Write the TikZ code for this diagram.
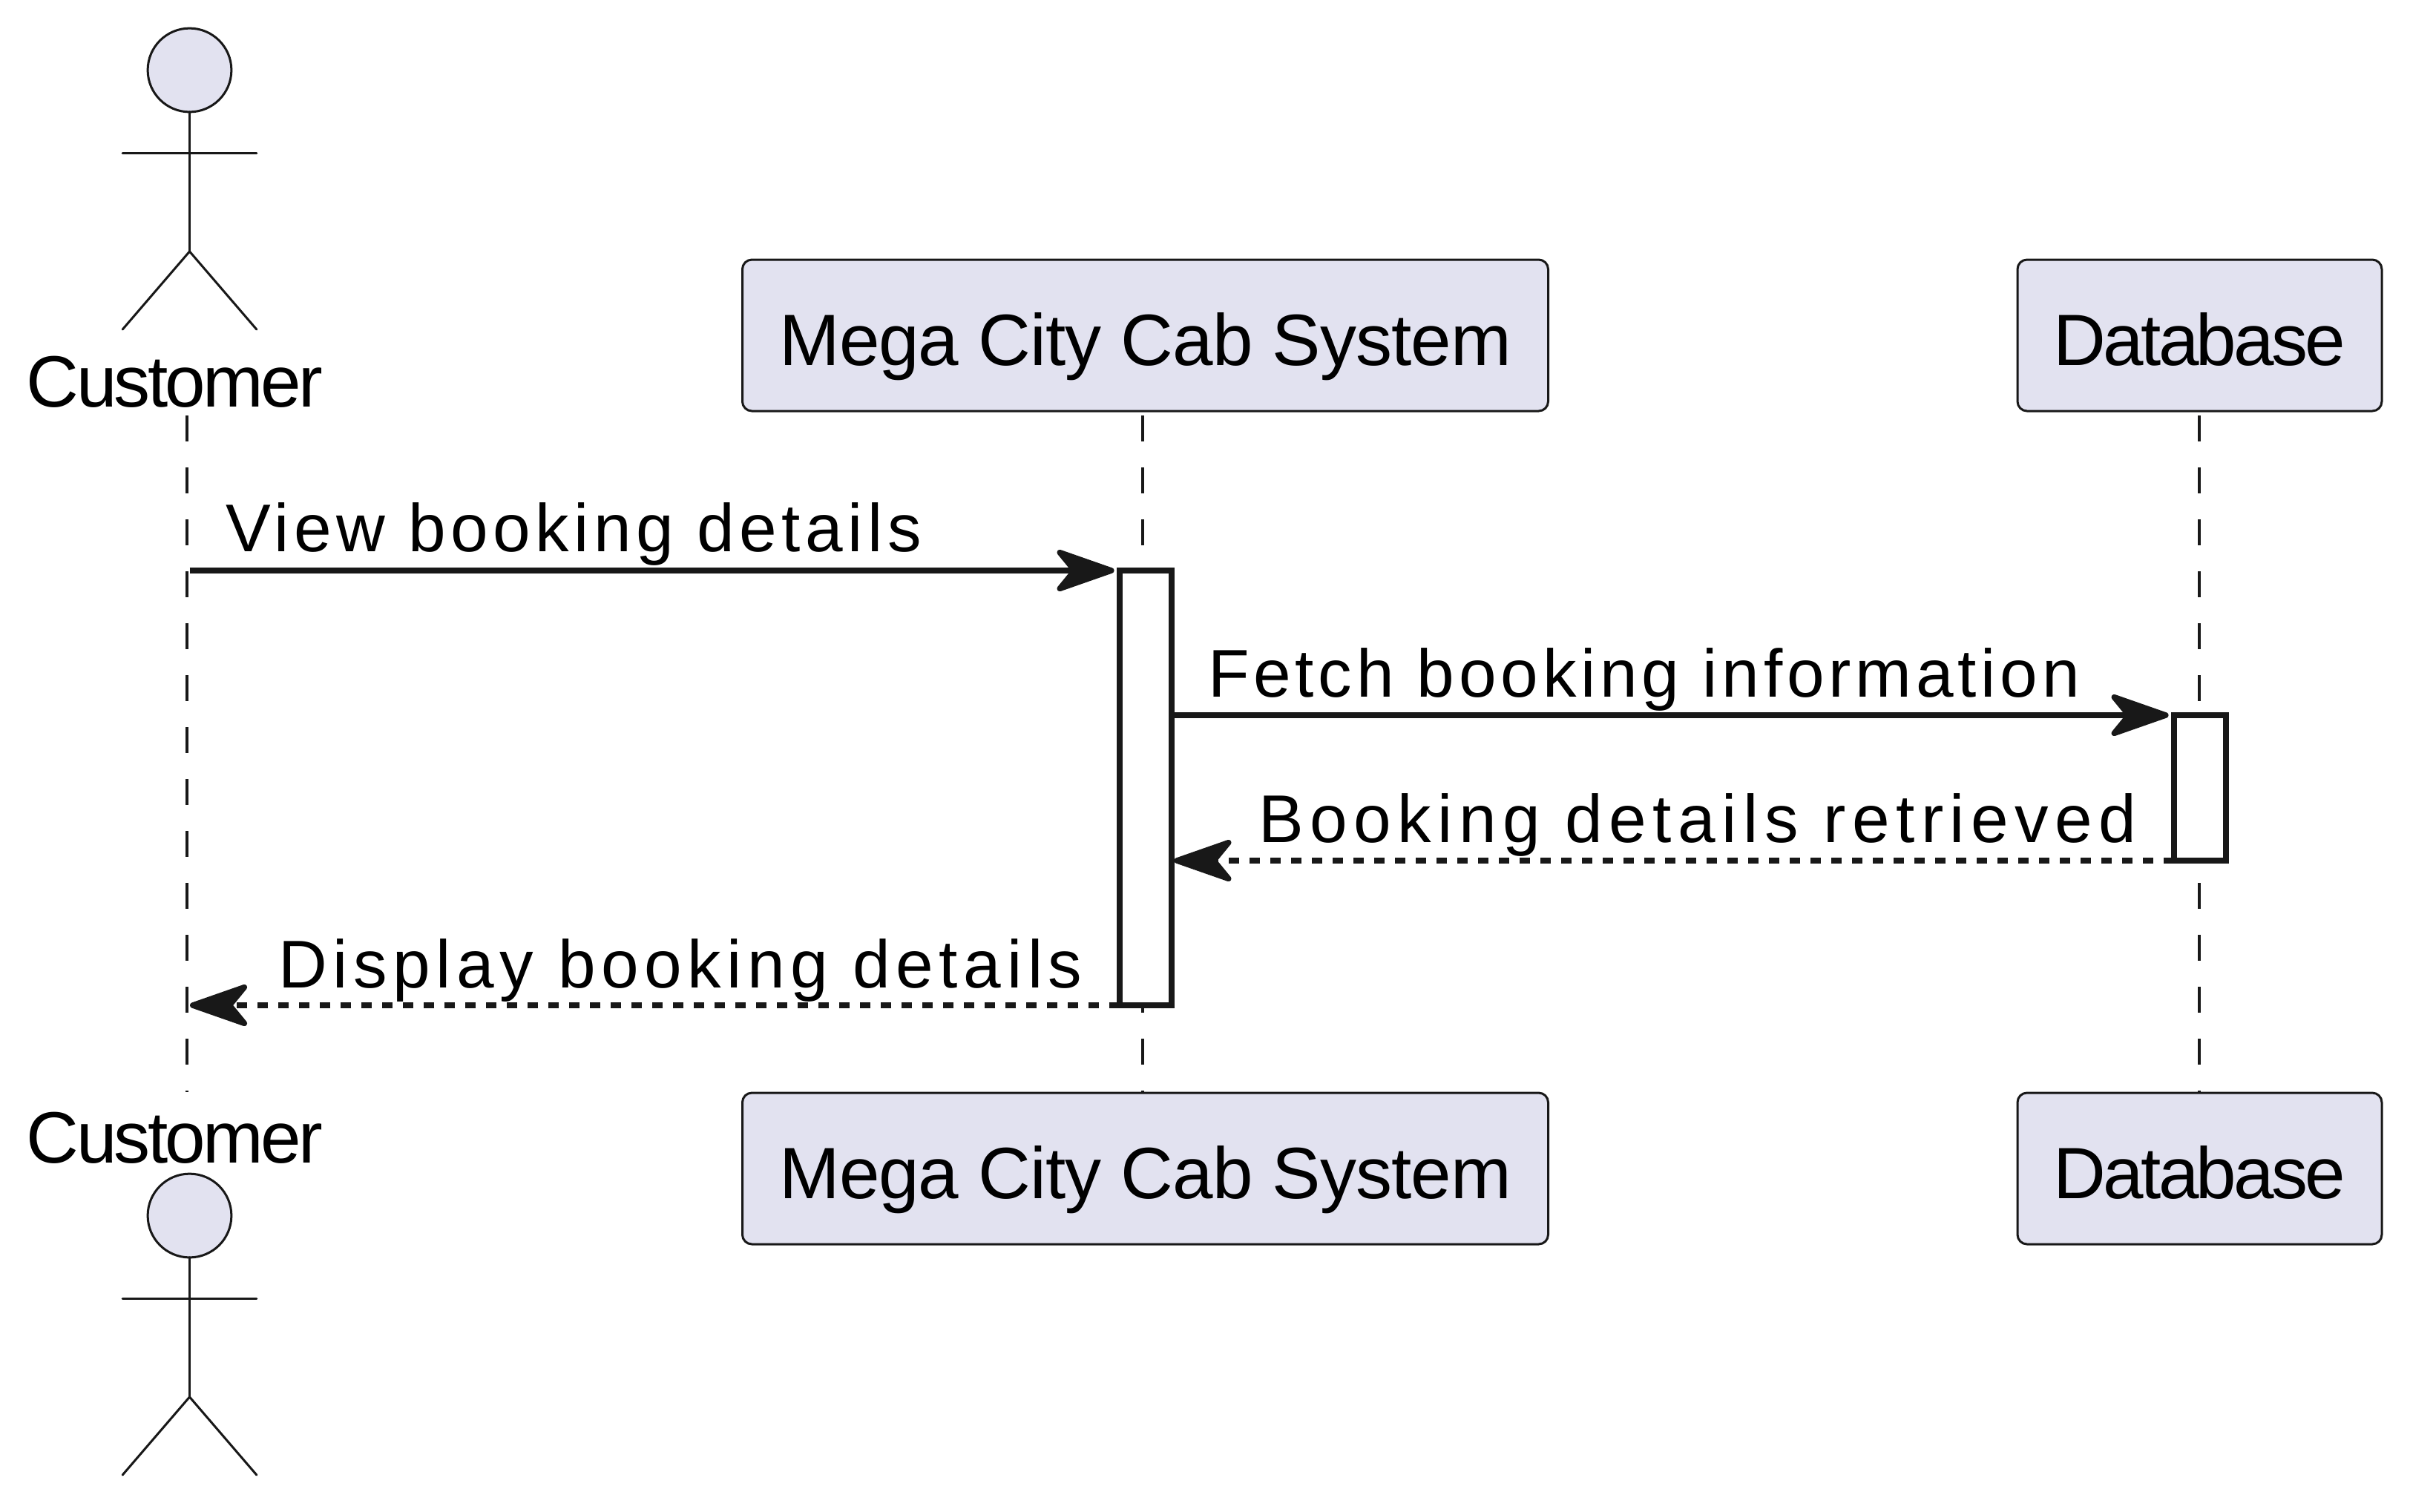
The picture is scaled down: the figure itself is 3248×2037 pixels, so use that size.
\documentclass[tikz,border=0pt]{standalone}
\usepackage{fontspec}
\usetikzlibrary{arrows.meta}
\setmainfont{Liberation Sans}
\newfontfamily\actorfont[LetterSpace=-3.8]{Liberation Sans}
\newfontfamily\megafont[LetterSpace=-1]{Liberation Sans}
\definecolor{partfill}{HTML}{E2E2F0}
\definecolor{linecol}{HTML}{181818}
\tikzset{
  part/.style={draw=linecol,fill=partfill,line width=.75pt,rounded corners=3.2pt,outer sep=0pt,
    minimum height=51pt,inner sep=0pt,text=black,text height=20pt,text depth=0pt},
  actorname/.style={anchor=base west,inner sep=0pt,outer sep=0pt,text=black,font=\actorfont\fontsize{24.5}{24.5}\selectfont},
  msgtext/.style={anchor=base west,inner sep=0pt,outer sep=0pt,text=black,
    font=\addfontfeature{LetterSpace=#1}\fontsize{22.75}{22.75}\selectfont},
  bar/.style={draw=linecol,fill=white,line width=1.9pt,minimum width=17.5pt,inner sep=0pt,outer sep=0pt},
  lifeline/.style={draw=linecol,line width=.8pt,dash pattern=on 8.75pt off 8.75pt},
  stick/.style={draw=linecol,line width=.75pt,line cap=round},
  msg/.style={draw=linecol,line width=1.9pt,shorten >=1.85pt,-{Stealth[length=23pt,width=16pt,inset=6.5pt,round]}},
  reply/.style={msg,shorten >=.85pt,dash pattern=on 3.5pt off 3.5pt},
}
% one stick figure, #1 is the middle of the head
\newcommand{\stickman}[1]{
  \draw[stick,fill=partfill] (#1) circle (14.1pt);
  \draw[stick] ([yshift=-14.1pt]#1) -- ([yshift=-61.1pt]#1);
  \draw[stick] ([xshift=-22.6pt,yshift=-28pt]#1) -- ([xshift=22.6pt,yshift=-28pt]#1);
  \draw[stick] ([xshift=-22.6pt,yshift=-87.4pt]#1) -- ([yshift=-61.1pt]#1) -- ([xshift=22.6pt,yshift=-87.4pt]#1);
}
\begin{document}
\begin{tikzpicture}[x=.25pt,y=-.25pt]
  \useasboundingbox (0,0) rectangle (3248,2037);
  % lifelines first, the boxes sit on top
  \coordinate (custtop) at (252,560);
  \coordinate (custbot) at (252,1472);
  \coordinate (megatopc) at (1540,560);
  \coordinate (megabotc) at (1540,1472);
  \coordinate (dbtopc) at (2964,560);
  \coordinate (dbbotc) at (2964,1472);
  \draw[lifeline] (custtop) -- (custbot);
  \draw[lifeline] (megatopc) -- (megabotc);
  \draw[lifeline] (dbtopc) -- (dbbotc);
  % participants
  \node[part,minimum width=271.5pt,font=\megafont\fontsize{24.5}{24.5}\selectfont] (megatop) at (1543.5,452) {Mega City Cab System};
  \node[part,minimum width=122.75pt,font=\actorfont\fontsize{24.5}{24.5}\selectfont] (dbtop) at (2964.5,452) {Database};
  \node[part,minimum width=271.5pt,font=\megafont\fontsize{24.5}{24.5}\selectfont] (megabot) at (1543.5,1575) {Mega City Cab System};
  \node[part,minimum width=122.75pt,font=\actorfont\fontsize{24.5}{24.5}\selectfont] (dbbot) at (2964.5,1575) {Database};
  % actors
  \coordinate (headtop) at (255.5,94.5);
  \stickman{headtop}
  \node[actorname] (custname) at (36,548) {Customer};
  \node[actorname] (custnamebot) at (36,1567) {Customer};
  \coordinate (headbot) at (255.5,1638.5);
  \stickman{headbot}
  % activations
  \node[bar,minimum height=146.5pt] (megabar) at (1544,1062) {};
  \node[bar,minimum height=49pt] (dbbar) at (2965,1062) {};
  % messages
  \draw[msg] (headtop |- megabar.north west) -- (megabar.north west);
  \draw[msg] (megabar.east |- dbbar.north west) -- (dbbar.north west);
  \draw[reply] (dbbar.south west) -- (megabar.east |- dbbar.south west);
  \draw[reply,shorten >=1pt] (megabar.south west) -- (custtop |- megabar.south west);
  \node[msgtext=7.1] (viewlbl) at (304,743) {View booking details};
  \node[msgtext=6.4] (fetchlbl) at (1628,939) {Fetch booking information};
  \node[msgtext=9.35] (gotlbl) at (1696,1135) {Booking details retrieved};
  \node[msgtext=8.4] (showlbl) at (375,1331) {Display booking details};
\end{tikzpicture}
\end{document}
